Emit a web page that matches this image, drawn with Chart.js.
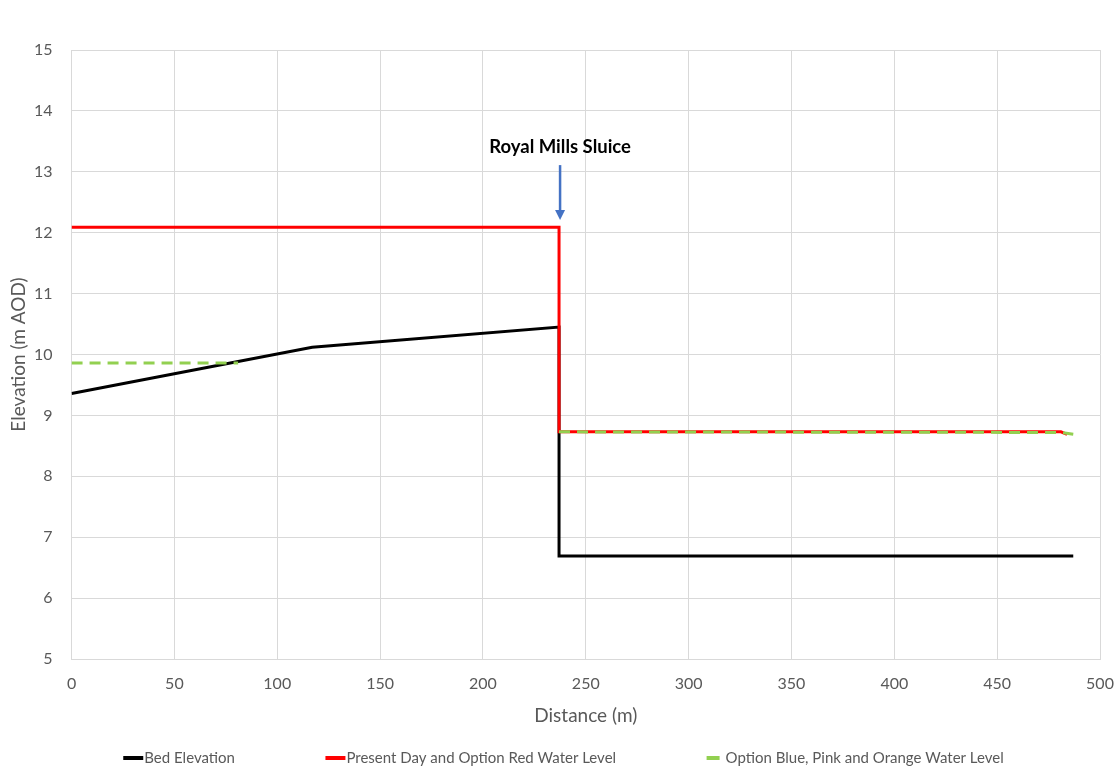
<!DOCTYPE html>
<html><head><meta charset="utf-8">
<script src="https://cdn.jsdelivr.net/npm/chart.js@4/dist/chart.umd.min.js"></script>
<style>html,body{margin:0;padding:0;background:#fff}#wrap{width:1119px;height:778px}</style>
</head><body><div id="wrap"><canvas id="c" width="1119" height="778"></canvas></div>
<script>
// ---- data ----
const seriesNames = ['Bed Elevation', 'Present Day and Option Red Water Level', 'Option Blue, Pink and Orange Water Level'];
const bedX = [0, 117, 237, 237, 487];
const bedY = [9.36, 10.12, 10.45, 6.69, 6.69];
const redX = [0, 237, 237, 481, 484];
const redY = [12.09, 12.09, 8.73, 8.73, 8.69];
const greenX = [0, 81, 150, 237, 481, 487];
const greenY = [9.86, 9.86, null, 8.73, 8.72, 8.69];
const xTicks = [0, 50, 100, 150, 200, 250, 300, 350, 400, 450, 500];
const yTicks = [5, 6, 7, 8, 9, 10, 11, 12, 13, 14, 15];
const sluiceLabel = 'Royal Mills Sluice';
const sluiceX = 237.5;
const sluiceTextY = 13.41;
const arrowTopY = 13.11;
const arrowTipY = 12.21;

const FONT = 'Lato, "Open Sans", sans-serif';
const GREY = '#595959';
const toPts = (xs, ys) => xs.map((x, i) => ({x: x, y: ys[i]}));

const annotationPlugin = {
  id: 'sluiceAnnotation',
  afterDatasetsDraw(chart) {
    const {ctx, scales: {x, y}} = chart;
    const px = x.getPixelForValue(sluiceX);
    ctx.save();
    ctx.font = 'bold 18.5px ' + FONT;
    ctx.fillStyle = '#000';
    ctx.textAlign = 'center';
    ctx.textBaseline = 'middle';
    ctx.fillText(sluiceLabel, px, y.getPixelForValue(sluiceTextY));
    const top = y.getPixelForValue(arrowTopY), tip = y.getPixelForValue(arrowTipY);
    ctx.strokeStyle = '#4472C4';
    ctx.fillStyle = '#4472C4';
    ctx.lineWidth = 2.5;
    ctx.beginPath(); ctx.moveTo(px, top); ctx.lineTo(px, tip - 9); ctx.stroke();
    ctx.beginPath(); ctx.moveTo(px - 5, tip - 10); ctx.lineTo(px + 5, tip - 10); ctx.lineTo(px, tip); ctx.closePath(); ctx.fill();
    ctx.restore();
  }
};

const legendPlugin = {
  id: 'wideLegend',
  afterDraw(chart) {
    const ctx = chart.ctx;
    const ds = chart.data.datasets.slice().sort((a, b) => b.order - a.order);
    ctx.save();
    ctx.font = '15px ' + FONT;
    ctx.textBaseline = 'middle';
    const gap = 90.5;
    const items = ds.map(d => {
      const markLen = d.borderDash ? 13 : 20;
      const textOff = d.borderDash ? 19 : 21;
      return {d, markLen, textOff, w: textOff + ctx.measureText(d.label).width};
    });
    const total = items.reduce((a, it) => a + it.w, 0) + gap * (items.length - 1);
    let xpos = 563.5 - total / 2;
    const ypos = 758;
    items.forEach(it => {
      ctx.strokeStyle = it.d.borderColor;
      ctx.lineWidth = 4;
      ctx.beginPath();
      ctx.moveTo(xpos, ypos); ctx.lineTo(xpos + it.markLen, ypos); ctx.stroke();
      ctx.fillStyle = GREY;
      ctx.fillText(it.d.label, xpos + it.textOff, ypos);
      xpos += it.w + gap;
    });
    ctx.restore();
  }
};

new Chart(document.getElementById('c'), {
  type: 'line',
  data: {
    datasets: [
      {label: seriesNames[0], data: toPts(bedX, bedY), borderColor: '#000000', backgroundColor: '#000000', borderWidth: 3, pointRadius: 0, order: 3, tension: 0},
      {label: seriesNames[1], data: toPts(redX, redY), borderColor: '#FF0000', backgroundColor: '#FF0000', borderWidth: 3, pointRadius: 0, order: 2, tension: 0},
      {label: seriesNames[2], data: toPts(greenX, greenY), borderColor: '#92D050', backgroundColor: '#92D050', borderWidth: 3, borderDash: [11, 7], pointRadius: 0, order: 1, spanGaps: false, tension: 0}
    ]
  },
  options: {
    responsive: false,
    animation: false,
    devicePixelRatio: 1,
    layout: {padding: {top: 50, right: 19, bottom: 46.6, left: 7.1}},
    plugins: {legend: {display: false}, tooltip: {enabled: false}},
    scales: {
      x: {
        type: 'linear', min: 0, max: 500,
        afterBuildTicks: s => { s.ticks = xTicks.map(v => ({value: v})); },
        grid: {color: '#d9d9d9', lineWidth: 1, drawTicks: true, tickLength: 12, tickColor: 'rgba(0,0,0,0)'},
        border: {color: '#d9d9d9'},
        ticks: {color: GREY, font: {family: FONT, size: 16}, padding: 3, maxRotation: 0},
        title: {display: true, text: 'Distance (m)', color: GREY, font: {family: FONT, size: 19}, padding: {top: 8.4, bottom: 4}}
      },
      y: {
        type: 'linear', min: 5, max: 15,
        afterBuildTicks: s => { s.ticks = yTicks.map(v => ({value: v})); },
        grid: {color: '#d9d9d9', lineWidth: 1, drawTicks: false},
        border: {color: '#d9d9d9'},
        ticks: {color: GREY, font: {family: FONT, size: 16}, padding: 19},
        title: {display: true, text: 'Elevation (m AOD)', color: GREY, font: {family: FONT, size: 19}, padding: {top: 0, bottom: -14.9}}
      }
    }
  },
  plugins: [annotationPlugin, legendPlugin]
});
</script>
</body></html>
